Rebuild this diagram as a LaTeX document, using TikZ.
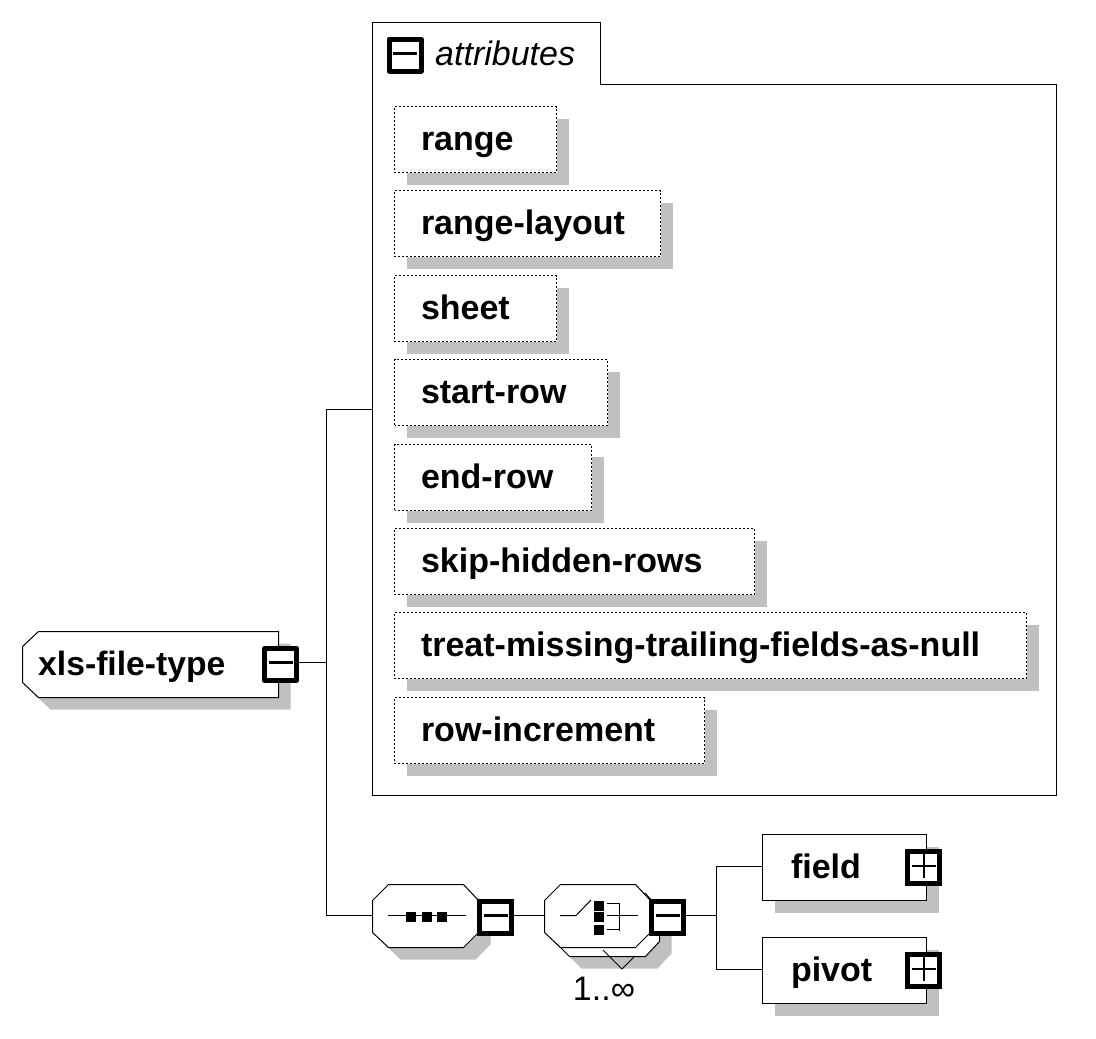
\documentclass[tikz,border=0pt]{standalone}
\usepackage{fontspec}
\setmainfont{Liberation Sans}
\usepackage{xcolor}
\usepackage{tikz}
\usetikzlibrary{positioning}
\usetikzlibrary{shadows}
\definecolor{shadowgray}{HTML}{C0C0C0}
\tikzset{
  hardshadow/.style={general shadow={shadow xshift=12pt,shadow yshift=-12pt,fill=shadowgray}},
  wire/.style={black,line width=1pt},
  namefont/.style={font=\fontsize{34}{40}\selectfont\bfseries,text height=27pt,text depth=6pt},
  attrbox/.style={rectangle,draw,wire,dash pattern=on 2pt off 2pt,dash phase=0.5pt,fill=white,hardshadow,namefont,anchor=north west,
    inner xsep=0pt,inner ysep=0pt,outer sep=0pt,minimum height=66pt,align=left,text width=#1,
    execute at begin node=\hspace*{26.5pt}},
  elembox/.style={attrbox=#1,solid,execute at begin node=\hspace*{2pt}},
  compositor/.style={draw,wire,fill=white},
  togglebox/.style={rectangle,draw,black,line width=5pt,fill=white,inner sep=0pt,outer sep=0pt,minimum size=32pt},
  minusbox/.style={togglebox,path picture={
    \draw [black,line width=3pt] ([xshift=-12pt,yshift=2pt]path picture bounding box.center) -- ([xshift=12pt,yshift=2pt]path picture bounding box.center);}},
  plusbox/.style={togglebox,path picture={
    \draw [black,line width=2pt] ([xshift=-12pt,yshift=2pt]path picture bounding box.center) -- ([xshift=12pt,yshift=2pt]path picture bounding box.center);
    \draw [black,line width=2pt] ([yshift=14pt]path picture bounding box.center) -- ([yshift=-10pt]path picture bounding box.center);}},
  tick/.style={rectangle,fill=black,inner sep=0pt,outer sep=0pt,minimum width=10pt,minimum height=10pt},
}

\begin{document}
\begin{tikzpicture}[x=1pt,y=-1pt]
\useasboundingbox (0,0) rectangle (1096,1039);

% attributes panel
\draw [wire] (372.5,22.5) -- (600.5,22.5) -- (600.5,84.5) -- (1056.5,84.5) -- (1056.5,795.5) -- (372.5,795.5) -- cycle;
\node [minusbox,line join=round] (attrtoggle) at (405,55) {};
\node [anchor=base west,inner sep=0pt,font=\fontsize{34}{40}\selectfont\itshape] (attrtitle) at (435,65) {attributes};
\coordinate (attributes) at (372.5,409.5);

\node [attrbox=162pt] (range) at (394.5,106.5) {range};
\node [attrbox=266pt] (rangelayout) at (394.5,190.5) {range-layout};
\node [attrbox=162pt] (sheet) at (394.5,275.5) {sheet};
\node [attrbox=213pt] (startrow) at (394.5,359.5) {start-row};
\node [attrbox=197pt] (endrow) at (394.5,444.5) {end-row};
\node [attrbox=360pt] (skiphidden) at (394.5,528.5) {skip-hidden-rows};
\node [attrbox=632pt] (treatmissing) at (394.5,612.5) {treat-missing-trailing-fields-as-null};
\node [attrbox=310pt] (rowincrement) at (394.5,697.5) {row-increment};

% root element
\draw [compositor,hardshadow] (38.5,631.5) -- (278.5,631.5) -- (278.5,697.5) -- (38.5,697.5) -- (22.5,682.5) -- (22.5,646.5) -- cycle;
\node [anchor=base west,inner sep=0pt,font=\fontsize{33.7}{40}\selectfont\bfseries] (root) at (38,675) {xls-file-type};
\node [minusbox,line join=round] (roottoggle) at (280.5,664.5) {};
\coordinate (rootbus) at (326.5,662.5);

% sequence
\draw [compositor,hardshadow] (388.5,884.5) -- (463.5,884.5) -- (478.5,900.5) -- (478.5,932.5) -- (463.5,947.5) -- (388.5,947.5) -- (372.5,932.5) -- (372.5,900.5) -- cycle;
\coordinate (seq) at (372.5,915.5);
\node [minusbox] (seqtoggle) at (495.5,917.5) {};
\draw [wire] (388,915.5) -- (466,915.5);
\node [tick] (seqa) at (411,917) {};
\node [tick] (seqb) at (426.5,917) {};
\node [tick] (seqc) at (442,917) {};

% choice
\draw [compositor,hardshadow] (569.5,893.5) -- (645.5,893.5) -- (659.5,909.5) -- (659.5,941.5) -- (645.5,956.5) -- (569.5,956.5) -- (554.5,941.5) -- (554.5,909.5) -- cycle;
\draw [compositor] (560.5,884.5) -- (635.5,884.5) -- (650.5,900.5) -- (650.5,932.5) -- (635.5,947.5) -- (560.5,947.5) -- (544.5,932.5) -- (544.5,900.5) -- cycle;
\coordinate (choice) at (544.5,915.5);
\node [minusbox] (choicetoggle) at (667.5,917.5) {};
\draw [wire] (560,915.5) -- (576,915.5) -- (591,900);
\node [tick] (choicea) at (598.5,905.5) {};
\node [tick] (choiceb) at (598.5,917) {};
\node [tick] (choicec) at (598.5,929.5) {};
\draw [wire] (607,903.5) -- (619.5,903.5) -- (619.5,931);
\draw [wire] (607,915.5) -- (638,915.5);
\draw [wire] (607,929.5) -- (619.5,929.5);
\draw [wire] (603,950) -- (622,969) -- (634,957);
\node [inner sep=0pt,font=\fontsize{34}{40}\selectfont] (choicecount) at (604,989) {1..∞};
\coordinate (choicebus) at (716.5,915.5);

% child elements
\node [elembox=164pt] (field) at (762.5,834.5) {field};
\node [plusbox] (fieldtoggle) at (923.5,867.5) {};
\node [elembox=164pt] (pivot) at (762.5,937.5) {pivot};
\node [plusbox] (pivottoggle) at (923.5,970.5) {};

% connectors
\draw [wire] ([yshift=2pt]roottoggle.east) -- (rootbus);
\draw [wire] (attributes) -| (rootbus);
\draw [wire] (seq) -| (rootbus);
\draw [wire] ([yshift=2pt]seqtoggle.east) -- (choice);
\draw [wire] ([yshift=2pt]choicetoggle.east) -- (choicebus);
\draw [wire] ([yshift=1pt]field.west) -| (choicebus);
\draw [wire] ([yshift=1pt]pivot.west) -| (choicebus);
\end{tikzpicture}
\end{document}
